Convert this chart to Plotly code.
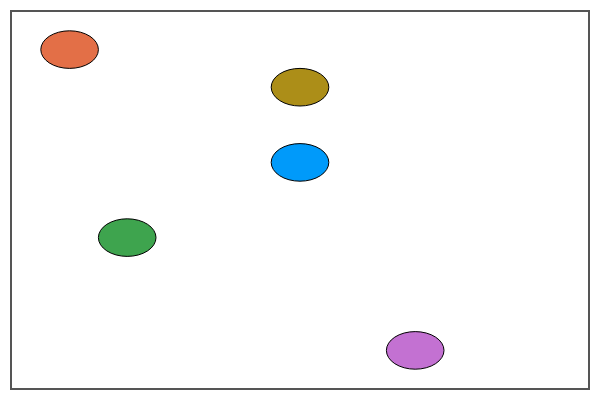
import plotly.graph_objects as go

names = ["blue", "orange", "green", "purple", "gold"]
cx = [0.5, 0.1, 0.2, 0.7, 0.5]
cy = [0.6, 0.9, 0.4, 0.1, 0.8]
radius = [0.05, 0.05, 0.05, 0.05, 0.05]
colors = ["#009AFA", "#E36F47", "#3EA44E", "#C371D2", "#AC8E18"]

fig = go.Figure()
# invisible trace to anchor axes
fig.add_trace(go.Scatter(x=cx, y=cy, mode="markers", marker=dict(opacity=0), hoverinfo="skip", showlegend=False))
for x, y, r, c in zip(cx, cy, radius, colors):
    fig.add_shape(type="circle", xref="x", yref="y", x0=x - r, x1=x + r, y0=y - r, y1=y + r,
                  fillcolor=c, line=dict(color="black", width=1))

axis = dict(range=[0, 1], showgrid=False, zeroline=False, showticklabels=False, ticks="",
            showline=True, mirror=True, linecolor="#555555", linewidth=1.5)
fig.update_layout(width=584, height=384, margin=dict(l=4, r=4, t=4, b=4, autoexpand=False),
                  plot_bgcolor="white", paper_bgcolor="white",
                  xaxis=axis, yaxis=axis, showlegend=False)
fig.write_html("out.html")
